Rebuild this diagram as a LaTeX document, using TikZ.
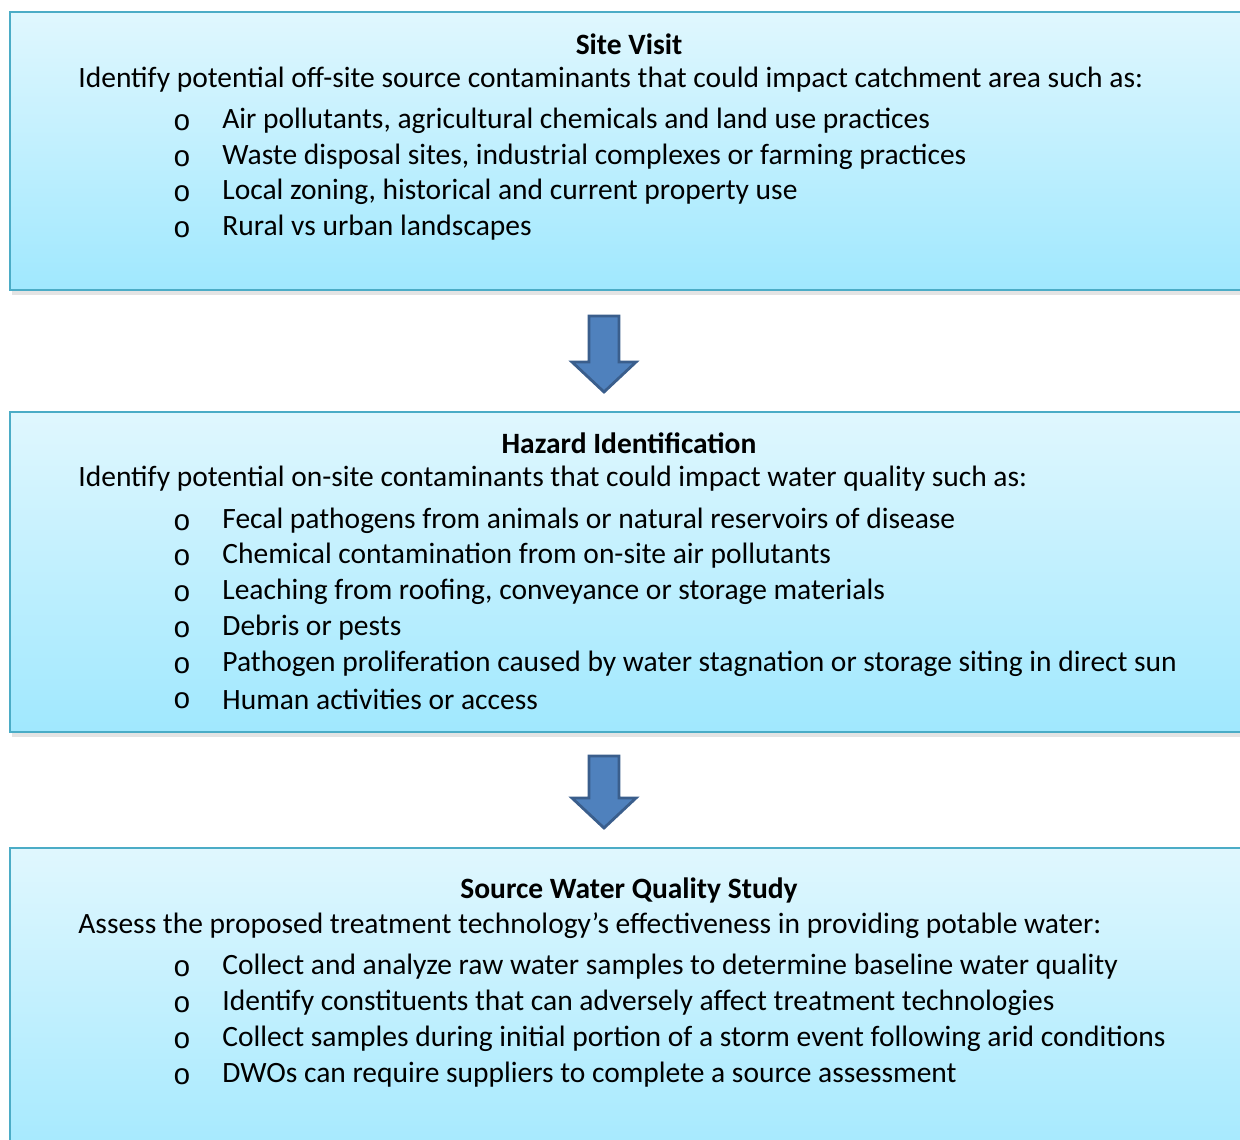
\documentclass[tikz,border=0pt]{standalone}
\usepackage{fontspec}
\setmainfont{Carlito}
\newfontfamily\bulletfont{Liberation Mono}
\usetikzlibrary{shadows}

\definecolor{panelline}{HTML}{4BACC6}
\definecolor{paneltop}{HTML}{E0F7FE}
\definecolor{panelbottom}{HTML}{A0E8FE}
\definecolor{arrowfill}{HTML}{4F81BD}
\definecolor{arrowline}{HTML}{3A5E8C}

\tikzset{
  panel/.style={draw=panelline, line width=1.2pt, top color=paneltop, bottom color=panelbottom,
    drop shadow={shadow xshift=1pt, shadow yshift=-2.5pt, opacity=0.15, fill=black!70}},
  paneltitle/.style={font=\fontsize{14.75}{17}\selectfont\bfseries, anchor=center, inner sep=0pt, yshift=-1pt},
  intro/.style={font=\fontsize{14.75}{17}\selectfont, anchor=west, inner sep=0pt, yshift=-1pt},
  dot/.style={font=\fontsize{14.75}{17}\selectfont\bulletfont, anchor=center, inner sep=0pt, yshift=-2pt},
  blockarrow/.style={fill=arrowfill, draw=arrowline, line width=1.4pt, line join=miter}
}

\begin{document}
\begin{tikzpicture}[x=0.5pt, y=-0.5pt]
    \useasboundingbox (0,0) rectangle (1240,1139);
    \clip (0,0) rectangle (1240,1139);

    % Panels
    \path[panel] (10,12) rectangle (1270,290); % Site visit panel
    \path[panel] (10,412) rectangle (1270,732); % Hazard panel
    \path[panel] (10,848) rectangle (1270,1180); % Source water panel

    % Site visit
    \node[paneltitle] (visittitle) at (629,42) {Site Visit};
    \node[intro] (visitintro) at (78,78) {Identify potential off-site source contaminants that could impact catchment area such as:};
    \foreach \y/\txt [count=\i] in {119/{Air pollutants, agricultural chemicals and land use practices},
        155/{Waste disposal sites, industrial complexes or farming practices},
        190/{Local zoning, historical and current property use},
        226/{Rural vs urban landscapes}} {
      \node[dot] (visitdot\i) at (182,\y) {o};
      \node[intro] (visititem\i) at (222,\y) {\txt};
    }

    % Block arrow between panel 1 and 2
    \draw[blockarrow] (589,316) -- (619,316) -- (619,362) -- (636,362) -- (604,392)
        -- (572,362) -- (589,362) -- cycle;

    % Hazard identification
    \node[paneltitle] (hazardtitle) at (629,441) {Hazard Identification};
    \node[intro] (hazardintro) at (78,477) {Identify potential on-site contaminants that could impact water quality such as:};
    \foreach \y/\txt [count=\i] in {519/{Fecal pathogens from animals or natural reservoirs of disease},
        554/{Chemical contamination from on-site air pollutants},
        590/{Leaching from roofing, conveyance or storage materials},
        626/{Debris or pests},
        662/{Pathogen proliferation caused by water stagnation or storage siting in direct sun},
        697/{Human activities or access}} {
      \node[dot] (hazarddot\i) at (182,\y) {o};
      \node[intro] (hazarditem\i) at (222,\y) {\txt};
    }

    % Block arrow between panel 2 and 3
    \draw[blockarrow] (589,756) -- (619,756) -- (619,798) -- (636,798) -- (604,828)
        -- (572,798) -- (589,798) -- cycle;

    % Source water quality study
    \node[paneltitle] (sourcetitle) at (629,888) {Source Water Quality Study};
    \node[intro] (sourceintro) at (78,924) {Assess the proposed treatment technology’s effectiveness in providing potable water:};
    \foreach \y/\txt [count=\i] in {965/{Collect and analyze raw water samples to determine baseline water quality},
        1001/{Identify constituents that can adversely affect treatment technologies},
        1037/{Collect samples during initial portion of a storm event following arid conditions},
        1073/{DWOs can require suppliers to complete a source assessment}} {
      \node[dot] (sourcedot\i) at (182,\y) {o};
      \node[intro] (sourceitem\i) at (222,\y) {\txt};
    }
\end{tikzpicture}
\end{document}
